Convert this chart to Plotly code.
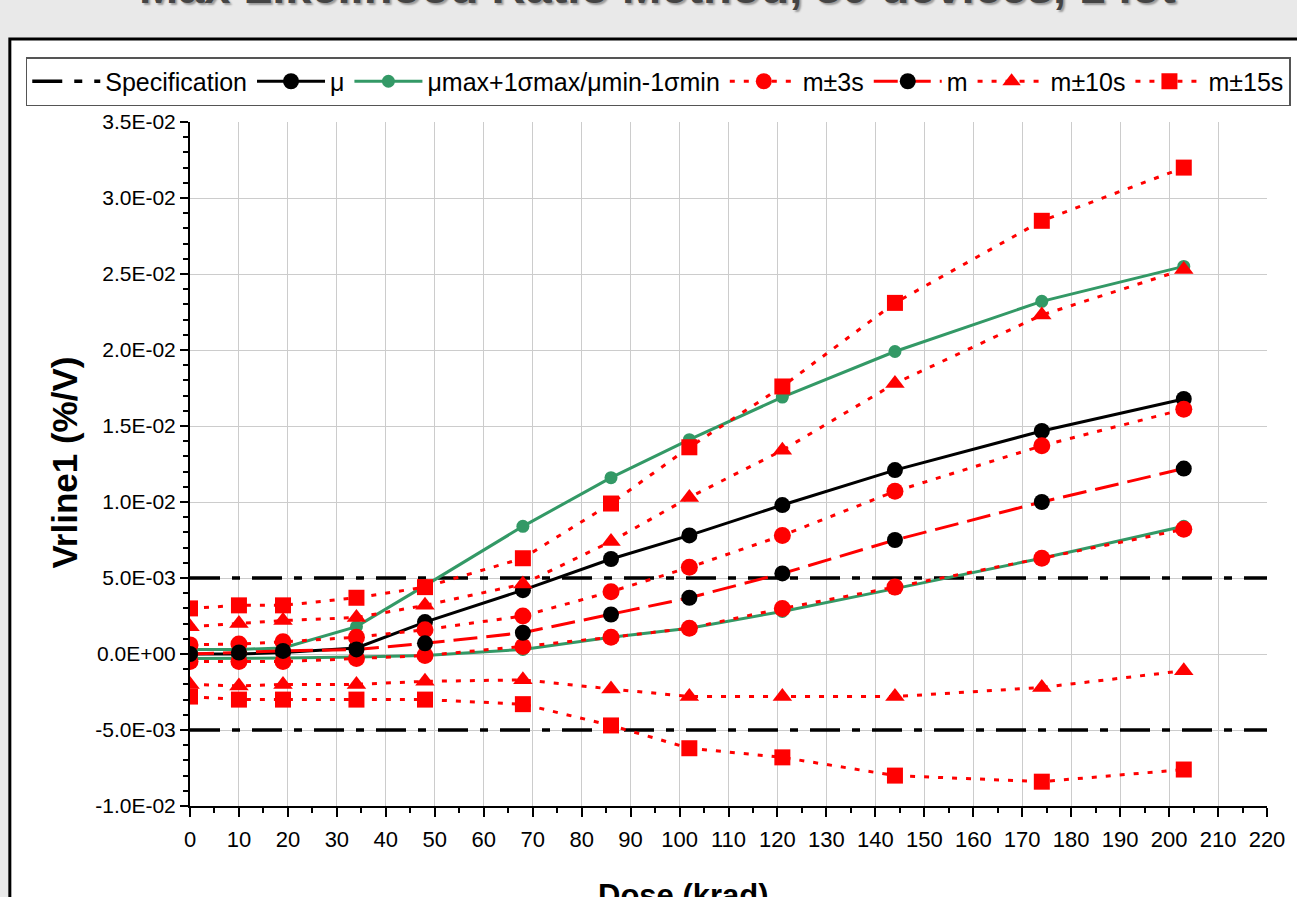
import plotly.graph_objects as go

# ---------------- data ----------------
dose = [0, 10, 19, 34, 48, 68, 86, 102, 121, 144, 174, 203]

mu = [0.0, 0.0, 0.0001, 0.0004, 0.0021, 0.0042, 0.00625, 0.0078, 0.0098, 0.0121, 0.01467, 0.01678]
mu_max_sig = [0.0003, 0.0003, 0.0004, 0.0018, 0.0045, 0.0084, 0.0116, 0.0141, 0.0169, 0.0199, 0.0232, 0.0255]
mu_min_sig = [-0.0003, -0.0003, -0.00026, -0.0002, -0.0001, 0.0003, 0.0011, 0.0017, 0.0028, 0.0043, 0.0063, 0.0084]

m = [0.0, 0.0001, 0.0002, 0.0003, 0.0007, 0.0014, 0.0026, 0.0037, 0.0053, 0.0075, 0.0100, 0.0122]
m_p3s = [0.0006, 0.00066, 0.0008, 0.0011, 0.0016, 0.0025, 0.0041, 0.0057, 0.0078, 0.0107, 0.0137, 0.0161]
m_m3s = [-0.0005, -0.0005, -0.0005, -0.0003, -0.0001, 0.0005, 0.0011, 0.0017, 0.0030, 0.0044, 0.0063, 0.0082]
m_p10s = [0.0018, 0.0020, 0.0022, 0.0024, 0.0032, 0.0046, 0.0074, 0.0103, 0.0134, 0.0178, 0.0223, 0.0253]
m_m10s = [-0.0020, -0.0021, -0.0020, -0.0020, -0.0018, -0.0017, -0.0023, -0.0028, -0.0028, -0.0028, -0.0022, -0.0011]
m_p15s = [0.0030, 0.0032, 0.0032, 0.0037, 0.0044, 0.0063, 0.0099, 0.0136, 0.0176, 0.0231, 0.0285, 0.0320]
m_m15s = [-0.0028, -0.0030, -0.0030, -0.0030, -0.0030, -0.0033, -0.0047, -0.0062, -0.0068, -0.0080, -0.0084, -0.0076]

spec_limits = [0.005, -0.005]
x_range = [0, 220]
y_range = [-0.010, 0.035]
x_ticks = list(range(0, 221, 10))
y_ticks = [-0.010, -0.005, 0.0, 0.005, 0.010, 0.015, 0.020, 0.025, 0.030, 0.035]
y_ticktext = [f"{v:.1E}" for v in y_ticks]

title_text = "Max Likelihood Ratio Method, 30 devices, 1 lot"

# ---------------- styles ----------------
RED = "#ff0000"
GREEN = "#339966"
DOT = "5px,9px"
LONGDASH = "24px,9px"
SPECDASH = "30px,12px,8px,12px"

fig = go.Figure()

# Specification lines
spec_x, spec_y = [], []
for lim in spec_limits:
    spec_x += [x_range[0], x_range[1], None]
    spec_y += [lim, lim, None]
fig.add_trace(go.Scatter(x=spec_x, y=spec_y, mode="lines", name="Specification",
                         line=dict(color="black", width=3.5, dash=SPECDASH)))

# mu
fig.add_trace(go.Scatter(x=dose, y=mu, mode="lines+markers", name="μ",
                         line=dict(color="black", width=3),
                         marker=dict(symbol="circle", size=16, color="black")))

# green band
fig.add_trace(go.Scatter(x=dose, y=mu_max_sig, mode="lines+markers", name="μmax+1σmax/μmin-1σmin",
                         legendgroup="g", line=dict(color=GREEN, width=3),
                         marker=dict(symbol="circle", size=13, color=GREEN)))
fig.add_trace(go.Scatter(x=dose, y=mu_min_sig, mode="lines+markers", name="μmax+1σmax/μmin-1σmin",
                         legendgroup="g", showlegend=False, line=dict(color=GREEN, width=3),
                         marker=dict(symbol="circle", size=13, color=GREEN)))

# m ± 3s
fig.add_trace(go.Scatter(x=dose, y=m_p3s, mode="lines+markers", name="m±3s", legendgroup="3s",
                         line=dict(color=RED, width=3, dash=DOT),
                         marker=dict(symbol="circle", size=17, color=RED)))
fig.add_trace(go.Scatter(x=dose, y=m_m3s, mode="lines+markers", name="m±3s", legendgroup="3s",
                         showlegend=False, line=dict(color=RED, width=3, dash=DOT),
                         marker=dict(symbol="circle", size=17, color=RED)))

# m
fig.add_trace(go.Scatter(x=dose, y=m, mode="lines+markers", name="m",
                         line=dict(color=RED, width=3, dash=LONGDASH),
                         marker=dict(symbol="circle", size=16, color="black")))

# m ± 10s
fig.add_trace(go.Scatter(x=dose, y=m_p10s, mode="lines+markers", name="m±10s", legendgroup="10s",
                         line=dict(color=RED, width=3, dash=DOT),
                         marker=dict(symbol="triangle-up", size=17, color=RED)))
fig.add_trace(go.Scatter(x=dose, y=m_m10s, mode="lines+markers", name="m±10s", legendgroup="10s",
                         showlegend=False, line=dict(color=RED, width=3, dash=DOT),
                         marker=dict(symbol="triangle-up", size=17, color=RED)))

# m ± 15s
fig.add_trace(go.Scatter(x=dose, y=m_p15s, mode="lines+markers", name="m±15s", legendgroup="15s",
                         line=dict(color=RED, width=3, dash=DOT),
                         marker=dict(symbol="square", size=16, color=RED)))
fig.add_trace(go.Scatter(x=dose, y=m_m15s, mode="lines+markers", name="m±15s", legendgroup="15s",
                         showlegend=False, line=dict(color=RED, width=3, dash=DOT),
                         marker=dict(symbol="square", size=16, color=RED)))

W, H = 1297, 897
L, R, T, B = 190, 25, 122, 91
pw, ph = W - L - R, H - T - B


def px_x(p):
    return (p - L) / pw


def px_y(p):
    return (H - B - p) / ph


fig.update_layout(
    width=W, height=H,
    margin=dict(l=L, r=R, t=T, b=B),
    paper_bgcolor="#e9e9e9",
    plot_bgcolor="white",
    font=dict(family="Arial, Liberation Sans, sans-serif", color="black"),
    showlegend=True,
    legend=dict(
        orientation="h",
        x=px_x(25), y=px_y(57), xanchor="left", yanchor="top",
        bgcolor="white", bordercolor="#555555", borderwidth=1.5,
        font=dict(size=25, family="Arial, Liberation Sans, sans-serif"),
        itemwidth=68, tracegroupgap=0, traceorder="normal",
    ),
    shapes=[
        dict(type="rect", xref="paper", yref="paper", layer="below",
             x0=px_x(9), x1=px_x(1330), y0=px_y(930), y1=px_y(39),
             fillcolor="white", line=dict(color="black", width=3)),
    ],
    annotations=[
        dict(text=f"<b>{title_text}</b>", xref="paper", yref="paper",
             x=px_x(660), y=px_y(-13), xanchor="center", yanchor="middle",
             showarrow=False,
             font=dict(size=47, color="#444444", family="Arial, Liberation Sans, sans-serif",
                       shadow="2px 2px 2px #9a9a9a")),
        dict(text="<b>Vrline1 (%/V)</b>", xref="paper", yref="paper",
             x=px_x(63), y=px_y(463), xanchor="center", yanchor="middle",
             textangle=-90, showarrow=False, font=dict(size=35)),
        dict(text="<b>Dose (krad)</b>", xref="paper", yref="paper",
             x=px_x(686), y=px_y(895), xanchor="center", yanchor="middle",
             showarrow=False, font=dict(size=31)),
    ],
)

fig.update_xaxes(
    range=x_range, tickvals=x_ticks, ticktext=[str(v) for v in x_ticks],
    tickfont=dict(size=22, family="Liberation Sans Narrow, Arial Narrow, Arial"),
    showgrid=True, gridcolor="#cccccc", gridwidth=1,
    showline=True, linecolor="black", linewidth=2,
    ticks="outside", ticklen=9, tickwidth=1.5, tickcolor="black",
    minor=dict(dtick=5, ticks="outside", ticklen=5, tickcolor="black", showgrid=False),
    zeroline=False, ticklabelstandoff=4,
)
fig.update_yaxes(
    range=y_range, tickvals=y_ticks, ticktext=y_ticktext,
    tickfont=dict(size=21),
    showgrid=True, gridcolor="#cccccc", gridwidth=1,
    showline=True, linecolor="black", linewidth=2,
    ticks="outside", ticklen=8, tickwidth=1.5, tickcolor="black",
    minor=dict(dtick=0.001, ticks="outside", ticklen=5, tickcolor="black", showgrid=False),
    zeroline=False,
)

fig.write_html(
    "out.html",
    config={"displayModeBar": False},
    post_script="document.body.style.margin='0';document.body.style.background='#e9e9e9';document.body.style.overflow='hidden';",
)
